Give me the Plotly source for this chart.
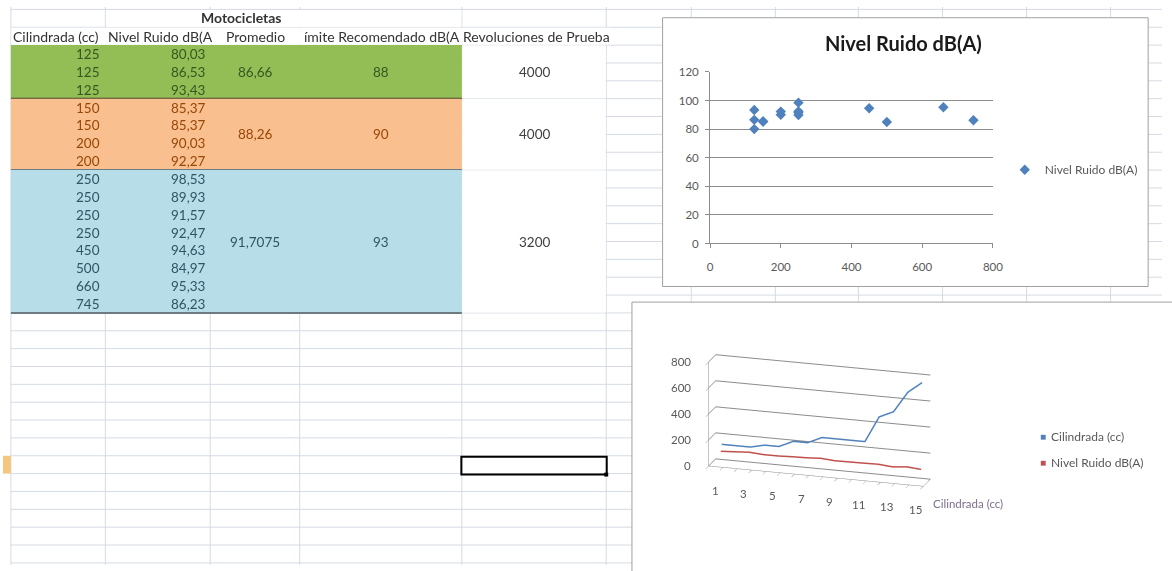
import plotly.graph_objects as go

W, H = 1172, 571

# ---------------- data ----------------
cilindrada = [125, 125, 125, 150, 150, 200, 200, 250, 250, 250, 250, 450, 500, 660, 745]
nivel_ruido = [80.03, 86.53, 93.43, 85.37, 85.37, 90.03, 92.27, 98.53, 89.93, 91.57, 92.47, 94.63, 84.97, 95.33, 86.23]
filas_grupo = [3, 4, 8]
promedio = ["86,66", "88,26", "91,7075"]
limite = ["88", "90", "93"]
revoluciones = ["4000", "4000", "3200"]
encabezados = ["Cilindrada (cc)", "Nivel Ruido dB(A", "Promedio", "ímite Recomendado dB(A", "Revoluciones de Prueba"]
titulo_tabla = "Motocicletas"
titulo_grafico = "Nivel Ruido dB(A)"
serie_cil = "Cilindrada (cc)"
serie_ruido = "Nivel Ruido dB(A)"
indices = list(range(1, len(cilindrada) + 1))
ticks_cat = indices[::2]
ticks_val3d = [0, 200, 400, 600, 800]

# ---------------- helpers ----------------
def px(x):
    return x / W

def py(y):
    return 1 - y / H

FONT = "Lato, 'Open Sans', sans-serif"
GRID = "#d5dae3"
shapes = []
annots = []

def line(x0, y0, x1, y1, color, width=1):
    shapes.append(dict(type="line", xref="paper", yref="paper", x0=px(x0), y0=py(y0), x1=px(x1), y1=py(y1),
                       line=dict(color=color, width=width), layer="below"))

def rect(x0, y0, x1, y1, fill, lc=None, lw=0):
    shapes.append(dict(type="rect", xref="paper", yref="paper", x0=px(x0), y0=py(y0), x1=px(x1), y1=py(y1),
                       fillcolor=fill, line=dict(color=lc or fill, width=lw), layer="below"))

def text(x, y, s, size=13, color="#333333", xanchor="center", bold=False):
    annots.append(dict(xref="paper", yref="paper", x=px(x), y=py(y), text=f"<b>{s}</b>" if bold else s,
                       showarrow=False, xanchor=xanchor, yanchor="middle",
                       font=dict(family=FONT, size=size, color=color)))

# ---------------- spreadsheet grid ----------------
ROW = 18.27
ROW0 = 39.0
CELL = 13.5
HEAD = 14
XD, XE = 464, 610
col_x = [8, 103.5, 209.5, 300, XD, XE, 696, 781, 865, 950, 1035, 1120]
row_y = [ROW0 + ROW * k for k in range(-2, 30) if ROW0 + ROW * k < H]
for y in row_y:
    line(8, y, W, y, GRID)
for x in col_x:
    line(x, 0, x, H, GRID)

rect(104, row_y[0] + 0.5, XD - 0.5, row_y[1] - 0.5, "white")
rect(8.5, row_y[1] + 0.5, XE + 4, row_y[2] - 0.5, "white")

bands = [("#93bd55", "#375623"), ("#fabf8f", "#974706"), ("#b7dde8", "#2f5564")]
borders = ["#4b4a2c", "#6f7b80", "#6f7b80"]
start = 0
for g, n in enumerate(filas_grupo):
    y0 = ROW0 + ROW * start
    y1 = ROW0 + ROW * (start + n)
    fill, tc = bands[g]
    rect(8, y0, XD, y1, fill)
    rect(XD + 0.5, y0 + 0.5, XE - 0.5, y1 - 0.5, "white")
    line(8, y1, XD, y1, borders[g], 2)
    ym = (y0 + y1) / 2
    for i in range(n):
        yr = y0 + ROW * (i + 0.5)
        text(100, yr, str(cilindrada[start + i]), CELL, tc, "right")
        text(207, yr, f"{nivel_ruido[start + i]:.2f}".replace(".", ","), CELL, tc, "right")
    text(255, ym, promedio[g], CELL, tc)
    text(382, ym, limite[g], CELL, tc)
    text(537, ym, revoluciones[g], CELL, "#404040")
    start += n

text(241, (row_y[0] + row_y[1]) / 2 - 1, titulo_tabla, HEAD, "#333333", bold=True)
hy = (row_y[1] + row_y[2]) / 2
text(8, hy, encabezados[0], HEAD, "#333333", "left")
text(104, hy, encabezados[1], HEAD, "#333333", "left")
text(255, hy, encabezados[2], HEAD, "#333333")
text(383, hy, encabezados[3], HEAD, "#333333")
text(539, hy, encabezados[4], HEAD, "#333333")

# selected cell
sel_top = ROW0 + ROW * 23
rect(0, sel_top, 8, sel_top + ROW, "#f5c77e")
shapes.append(dict(type="rect", xref="paper", yref="paper", x0=px(XD - 0.5), y0=py(sel_top + 1), x1=px(XE + 0.5),
                   y1=py(sel_top + ROW + 1), line=dict(color="black", width=2), fillcolor="rgba(0,0,0,0)", layer="below"))
rect(XE - 2, sel_top + ROW - 1, XE + 2, sel_top + ROW + 3, "black")

# chart frames
rect(667, 11, 1158, 286, "white", "#a0a0a0", 1)
rect(636, 302, 1185, 585, "white", "#a0a0a0", 1)

# ---------------- chart 1: scatter ----------------
fig = go.Figure()
fig.add_trace(go.Scatter(
    x=cilindrada, y=nivel_ruido, mode="markers", name=serie_ruido,
    marker=dict(symbol="diamond", size=8, color="#4f81bd", line=dict(width=0)),
    xaxis="x", yaxis="y", showlegend=True,
))
text(911, 37, titulo_grafico, 20, "#1a1a1a", bold=True)

# ---------------- chart 2: 3-D line ----------------
fig.add_trace(go.Scatter3d(
    x=indices, y=[0.9] * len(indices), z=nivel_ruido, mode="lines", name=serie_ruido,
    line=dict(color="#c0504d", width=3), showlegend=False, scene="scene",
))
fig.add_trace(go.Scatter3d(
    x=indices, y=[1.2] * len(indices), z=cilindrada, mode="lines", name=serie_cil,
    line=dict(color="#4f81bd", width=3), showlegend=False, scene="scene",
))

# legend for chart 2
text(1052, 439, "■", 10, "#4f81bd")
text(1058, 439, serie_cil, 12, "#595959", "left")
text(1052, 466, "■", 10, "#c0504d")
text(1058, 466, serie_ruido, 12, "#595959", "left")

lab = dict(family=FONT, size=11.5, color="#595959")
scene_ann = []
for t in ticks_cat:
    scene_ann.append(dict(x=t, y=-0.5, z=0, text=str(t), showarrow=False, xanchor="center",
                          yanchor="middle", yshift=-24, font=lab))
for v in ticks_val3d:
    scene_ann.append(dict(x=0.5, y=-0.5, z=v, text=str(v), showarrow=False, xanchor="right",
                          yanchor="middle", xshift=-15, font=lab))
scene_ann.append(dict(x=15.4, y=-0.45, z=0, text=serie_cil, showarrow=False, xanchor="left", yanchor="middle",
                      xshift=10, yshift=-18, font=dict(family=FONT, size=11.5, color="#7e6d8c")))

axfont = dict(family=FONT, size=11.5, color="#595959")
ax3 = dict(showbackground=False, showspikes=False, title=dict(text=""), zeroline=False,
           showline=True, linecolor="#8c8c8c", showticklabels=False)

fig.update_layout(
    width=W, height=H, margin=dict(l=0, r=0, t=0, b=0),
    paper_bgcolor="white", plot_bgcolor="white",
    font=dict(family=FONT),
    xaxis=dict(domain=[px(715), px(1001)], range=[0, 800], dtick=200, showgrid=False, zeroline=False,
               showline=True, linecolor="#8c8c8c", ticks="outside", ticklen=4, tickcolor="#8c8c8c",
               tickfont=axfont, ticklabelstandoff=9, anchor="y", fixedrange=True),
    yaxis=dict(domain=[py(242), py(66.5)], range=[0, 120], dtick=20, showgrid=True, gridcolor="#8c8c8c",
               zeroline=False, showline=True, linecolor="#8c8c8c", ticks="outside", ticklen=4,
               tickcolor="#8c8c8c", tickfont=axfont, ticklabelstandoff=4, anchor="x", fixedrange=True),
    legend=dict(x=px(1013), y=py(166.5), xanchor="left", yanchor="middle", bgcolor="rgba(0,0,0,0)",
                font=dict(family=FONT, size=12, color="#595959"), itemwidth=30),
    scene=dict(
        domain=dict(x=[px(668), px(982)], y=[py(535), py(311)]),
        xaxis=dict(ax3, range=[0.5, 15.5], tickvals=[i + 0.5 for i in range(0, 16)], showgrid=False,
                   ticks="outside", tickcolor="#8c8c8c", ticklen=4),
        yaxis=dict(ax3, range=[-0.5, 1.5], showgrid=False, ticks=""),
        zaxis=dict(ax3, range=[0, 800], tickvals=ticks_val3d, showgrid=True, gridcolor="#8c8c8c",
                   ticks="outside", tickcolor="#8c8c8c"),
        aspectmode="manual", aspectratio=dict(x=2.05, y=0.22, z=1.0),
        camera=dict(eye=dict(x=0.556, y=-1.819, z=0.618), center=dict(x=0, y=0, z=0),
                    projection=dict(type="orthographic")),
        bgcolor="rgba(0,0,0,0)",
        annotations=scene_ann,
    ),
    shapes=shapes, annotations=annots,
)

fig.write_html("out.html", config={"displayModeBar": False},
               post_script="document.body.style.margin='0';")
